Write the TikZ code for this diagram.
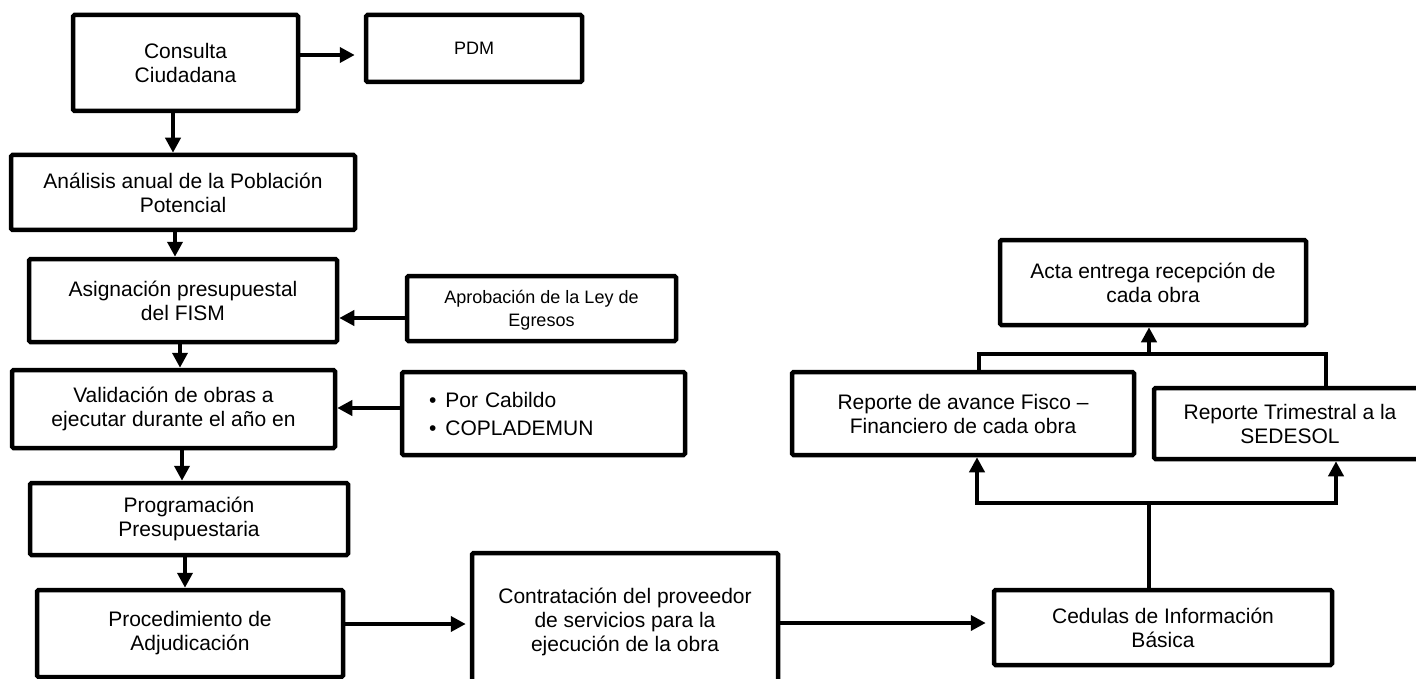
\documentclass[tikz,border=0pt]{standalone}
\usepackage{fontspec}
\setmainfont{Liberation Sans}
\usetikzlibrary{arrows.meta,calc}
\begin{document}
\begin{tikzpicture}[x=1pt,y=-1pt,
  box/.style={draw, line width=4.5pt, rounded corners=1.5pt, align=center, inner sep=2pt,
     font=\fontsize{21}{24}\selectfont},
  smallbox/.style={box, font=\fontsize{18}{23}\selectfont},
  conn/.style={line width=4pt},
  arr/.style={conn, -{Triangle[length=15pt,width=15pt]}},
  arrboth/.style={conn, {Triangle[length=15pt,width=15pt]}-{Triangle[length=15pt,width=15pt]}}]
\useasboundingbox (0,0) rectangle (1416,679);
\clip (0,0) rectangle (1416,679);
% left column
\node[box, minimum width=225pt, minimum height=96pt] (consulta) at (185.5,63) {Consulta\\Ciudadana};
\node[smallbox, minimum width=216pt, minimum height=67pt] (pdm) at (474,48.5) {PDM};
\node[box, minimum width=344pt, minimum height=75pt] (analisis) at (183,192.5) {Análisis anual de la Población\\Potencial};
\node[box, minimum width=308pt, minimum height=83pt] (asign) at (183,300.5) {Asignación presupuestal\\del FISM};
\node[smallbox, minimum width=269pt, minimum height=65pt] (aprob) at (541.5,308.5) {};
\begin{scope}
  \clip (aprob.north west) rectangle ($(aprob.south east)+(0,-13)$);
  \node[font=\fontsize{18}{23}\selectfont, align=center] (aprobtxt) at ($(aprob.center)+(0,2)$) {Aprobación de la Ley de\\Egresos};
\end{scope}
\node[box, minimum width=323pt, minimum height=78pt] (valid) at (173.5,409) {Validación de obras a\\ejecutar durante el año en};
\node[box, minimum width=283pt, minimum height=83pt, text width=229pt, inner xsep=27pt, align=left,
      font=\fontsize{21}{28}\selectfont] (bullets) at (543.5,413.5) {•\hspace{9pt}Por Cabildo\\•\hspace{9pt}COPLADEMUN};
\node[box, minimum width=318pt, minimum height=72pt] (prog) at (189,519) {Programación\\Presupuestaria};
\node[box, minimum width=306pt, minimum height=87pt] (proc) at (190,633.5) {Procedimiento de\\Adjudicación};
\node[box, minimum width=306pt, minimum height=137pt] (contr) at (625,621.5) {Contratación del proveedor\\de servicios para la\\ejecución de la obra};
% right part
\node[box, minimum width=338pt, minimum height=75pt] (ced) at (1163,627.5) {Cedulas de Información\\Básica};
\node[box, minimum width=342pt, minimum height=83pt] (avance) at (963,413.5) {Reporte de avance Fisco –\\Financiero de cada obra};
\node[box, minimum width=272pt, minimum height=71pt] (trim) at (1290,423.5) {Reporte Trimestral a la\\SEDESOL};
\node[box, minimum width=306pt, minimum height=85pt] (acta) at (1153,282.5) {Acta entrega recepción de\\cada obra};
% connectors left
\draw[arr, shorten >=9pt] ([yshift=8pt]consulta.east) -- ([yshift=8pt]consulta.east -| pdm.west);
\draw[arr] ([xshift=-12.5pt]consulta.south) -- ([xshift=-12.5pt]consulta.south |- analisis.north);
\draw[arr] ([xshift=-8pt]analisis.south) -- ([xshift=-8pt]analisis.south |- asign.north);
\draw[arr] ([yshift=-9.5pt]aprob.west) -- ([yshift=-9.5pt]aprob.west -| asign.east);
\draw[arr] ([xshift=-3pt]asign.south) -- ([xshift=-3pt]asign.south |- valid.north);
\draw[arr] ([yshift=5.5pt]bullets.west) -- ([yshift=5.5pt]bullets.west -| valid.east);
\draw[arr] ([xshift=8.5pt]valid.south) -- ([xshift=8.5pt]valid.south |- prog.north);
\draw[arr] ([xshift=-4pt]prog.south) -- ([xshift=-4pt]prog.south |- proc.north);
\draw[arr, shorten >=4pt] ([yshift=9.5pt]proc.east) -- ([yshift=9.5pt]proc.east -| contr.west);
\draw[arr, shorten >=6pt] ([yshift=-1.5pt]contr.east) -- ([yshift=-1.5pt]contr.east -| ced.west);
% connectors right
\coordinate (jlow) at (1149,503);
\coordinate (jlowL) at (977,503);
\coordinate (jlowR) at (1336,503);
\coordinate (jtop) at (1149,354);
\coordinate (jtopL) at (979,354);
\coordinate (jtopR) at (1326,354);
\draw[conn] (ced.north -| jlow) -- (jlow);
\draw[arrboth] (jlowL |- avance.south) -- (jlowL) -- (jlowR) -- (jlowR |- trim.south);
\draw[conn] (jtopL |- avance.north) -- (jtopL) -- (jtopR) -- (jtopR |- trim.north);
\draw[arr] (jtop) -- (jtop |- acta.south);
\end{tikzpicture}
\end{document}
